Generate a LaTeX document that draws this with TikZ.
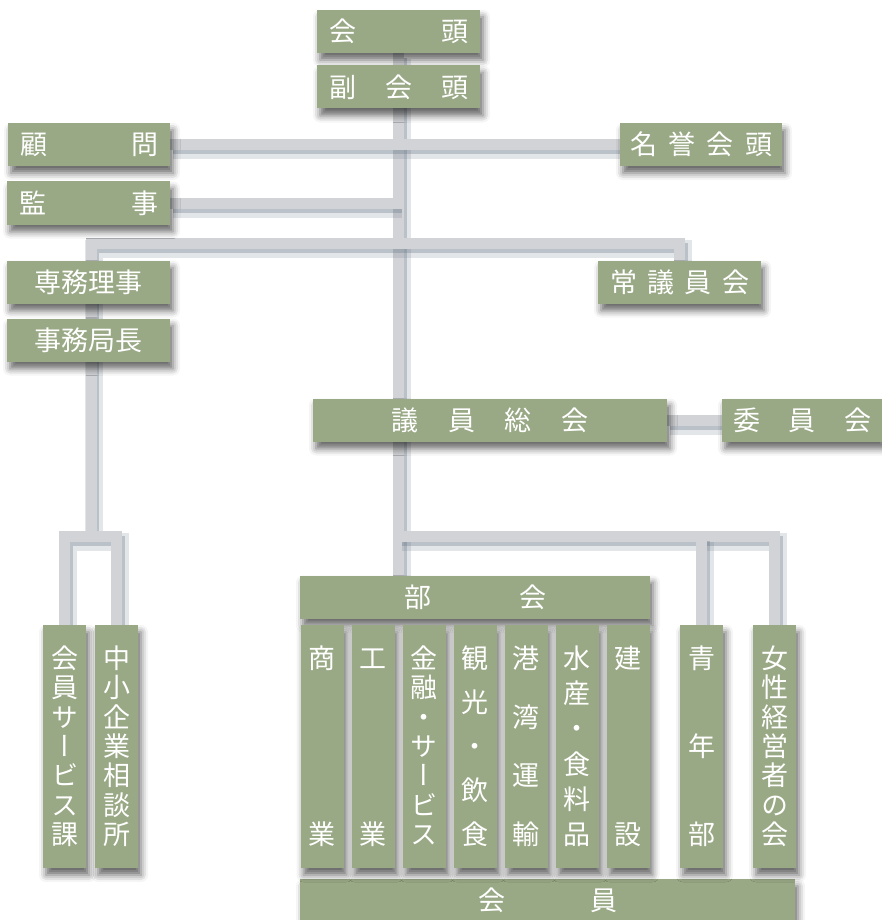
\documentclass[tikz,border=0pt]{standalone}
\usepackage{fontspec}
\newfontfamily\jp{Noto Sans CJK JP}
\newfontfamily\jpv[RawFeature=+vert]{Noto Sans CJK JP}
\usetikzlibrary{positioning, backgrounds, shadows.blur}

\definecolor{boxgreen}{RGB}{153,168,133}
\definecolor{linkgray}{RGB}{209,211,214}
\definecolor{shadowblue}{RGB}{100,116,132}

% stacked (vertical) labels for the tall boxes
\newcommand\vstack[1]{%
  \parbox[c][200pt][s]{30pt}{\offinterlineskip
    \foreach \ch [count=\k] in {#1}{%
      \ifnum\k>1 \vfill\fi
      \hbox to 30pt{\hss\vrule height 23.5pt depth 3.5pt width 0pt\ch\hss}}}}

\begin{document}
\begin{tikzpicture}[
    x=1pt, y=-1pt,
    box/.style={rectangle, fill=boxgreen, text=white, inner sep=0pt, minimum height=43pt, font=\jp\fontsize{27}{27}\selectfont, blur shadow={shadow xshift=3pt, shadow yshift=-7pt, shadow blur radius=7pt, shadow opacity=60}},
    spread/.style={text width=#1},
    colbox/.style={box, minimum width=43pt, minimum height=243pt, font=\jpv\fontsize{27}{27}\selectfont},
    link/.style={line width=11pt, line cap=rect, draw=linkgray,
        preaction={draw=shadowblue, draw opacity=.18, line width=18pt, transform canvas={shift={(3pt,-6pt)}}},
        preaction={draw=shadowblue, draw opacity=.32, line width=10pt, transform canvas={shift={(3pt,-5pt)}}}}
]
\useasboundingbox (0,0) rectangle (882,920);

% Top
\node[box, minimum width=163pt, spread=139pt] (kaito) at (398.5,31.5) {会\hfill 頭};
\node[box, minimum width=163pt, spread=139pt] (fukukaito) at (398.5,87) {副\hfill 会\hfill 頭};

% Left side
\node[box, minimum width=162pt, spread=138pt] (komon) at (89,144.5) {顧\hfill 問};
\node[box, minimum width=163pt, spread=139pt] (kansa) at (88.5,203) {監\hfill 事};
\node[box, minimum width=163pt] (senmu) at (88.5,282) {専務理事};
\node[box, minimum width=163pt] (jimukyoku) at (88.5,340) {事務局長};

% Right side
\node[box, minimum width=162pt, spread=142pt] (meiyo) at (701,144.5) {名\hfill 誉\hfill 会\hfill 頭};
\node[box, minimum width=163pt, spread=139pt] (jogiin) at (679.5,282) {常\hfill 議\hfill 員\hfill 会};

% Assembly
\node[box, minimum width=354pt, spread=197pt] (giin) at (490,420) {議\hfill 員\hfill 総\hfill 会};
\node[box, minimum width=160pt, spread=138pt] (iinkai) at (802,420) {委\hfill 員\hfill 会};
\node[box, minimum width=350pt, spread=142pt] (bukai) at (475,597) {部\hfill 会};
\node[box, minimum width=495pt, minimum height=42pt, spread=139pt] (kaiin) at (547.5,900) {会\hfill 員};

% Sections
\node[colbox] (shogyo) at (322,746.5) {\vstack{商,業}};
\node[colbox] (kogyo) at (373,746.5) {\vstack{工,業}};
\node[colbox] (kinyu) at (424,746.5) {\vstack{金,融,・,サ,ー,ビ,ス}};
\node[colbox] (kanko) at (475,746.5) {\vstack{観,光,・,飲,食}};
\node[colbox] (kowan) at (526,746.5) {\vstack{港,湾,運,輸}};
\node[colbox] (suisan) at (577,746.5) {\vstack{水,産,・,食,料,品}};
\node[colbox] (kensetsu) at (628,746.5) {\vstack{建,設}};
\node[colbox] (seinen) at (701.5,746.5) {\vstack{青,年,部}};
\node[colbox] (josei) at (774.5,746.5) {\vstack{女,性,経,営,者,の,会}};

% Office
\node[colbox] (service) at (64.5,746.5) {\vstack{会,員,サ,ー,ビ,ス,課}};
\node[colbox] (chusho) at (116.5,746.5) {\vstack{中,小,企,業,相,談,所}};

% Connectors
\begin{scope}[on background layer]
    \coordinate (lsplit) at (91,243);
    \coordinate (lfork) at (91,536);
    \coordinate (rfork) at (398.5,536);
    \draw[link] (kaito.south) -- (kaito.south |- bukai.north);
    \draw[link] (komon.east) -- (meiyo.west);
    \draw[link] (kansa.east) -- (kansa.east -| kaito.south);
    \draw[link] (lfork) -- (lsplit) -| (jogiin.north);
    \draw[link] (service.north) |- (lfork) -| (chusho.north);
    \draw[link] (giin.east) -- (iinkai.west);
    \draw[link] (rfork) -| (josei.north);
    \draw[link] (seinen.north) -- (seinen.north |- rfork);
\end{scope}

\end{tikzpicture}
\end{document}
